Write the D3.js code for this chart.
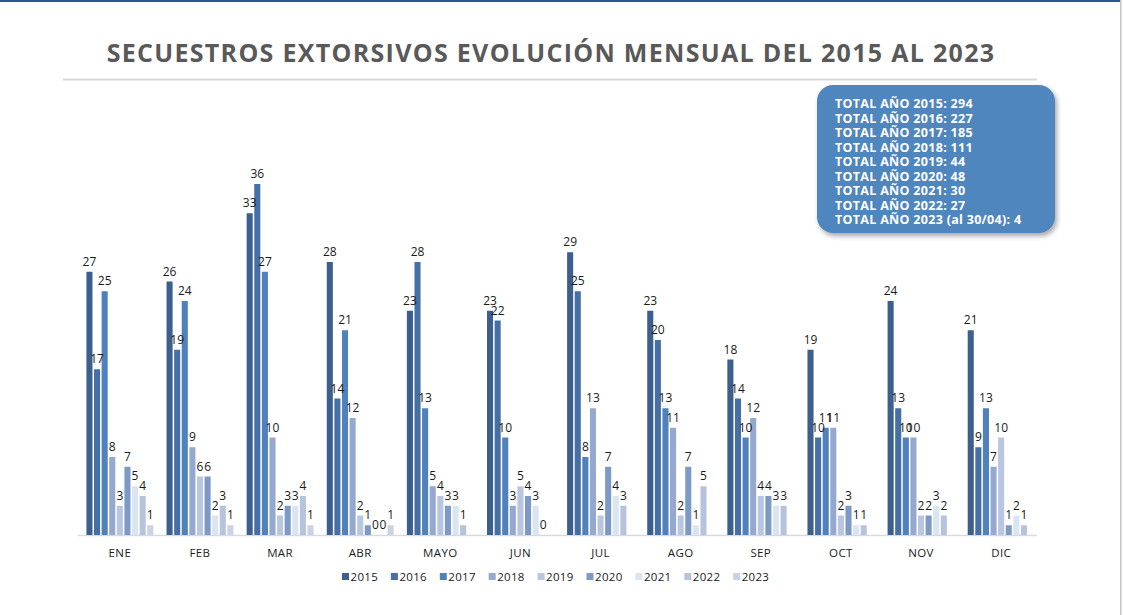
<!DOCTYPE html>
<meta charset="utf-8">
<style>
  body { margin: 0; background: #fff; font-family: "Open Sans", sans-serif; }
</style>
<body>
<script src="https://cdnjs.cloudflare.com/ajax/libs/d3/7.8.5/d3.min.js"></script>
<script>
// months and years
var months = ["ENE","FEB","MAR","ABR","MAYO","JUN","JUL","AGO","SEP","OCT","NOV","DIC"];
var years = ["2015","2016","2017","2018","2019","2020","2021","2022","2023"];

// monthly values per year (2023 only up to april)
var v2015 = [27,26,33,28,23,23,29,23,18,19,24,21];
var v2016 = [17,19,36,14,28,22,25,20,14,10,13,9];
var v2017 = [25,24,27,21,13,10,8,13,10,11,10,13];
var v2018 = [8,9,10,12,5,3,13,11,12,11,10,7];
var v2019 = [3,6,2,2,4,5,2,2,4,2,2,10];
var v2020 = [7,6,3,1,3,4,7,7,4,3,2,1];
var v2021 = [5,2,3,0,3,3,4,1,3,1,3,2];
var v2022 = [4,3,4,0,1,0,3,5,3,1,2,1];
var v2023 = [1,1,1,1,null,null,null,null,null,null,null,null];

var totals = ["TOTAL AÑO 2015: 294","TOTAL AÑO 2016: 227","TOTAL AÑO 2017: 185",
  "TOTAL AÑO 2018: 111","TOTAL AÑO 2019: 44","TOTAL AÑO 2020: 48",
  "TOTAL AÑO 2021: 30","TOTAL AÑO 2022: 27","TOTAL AÑO 2023 (al 30/04): 4"];

var series = [v2015,v2016,v2017,v2018,v2019,v2020,v2021,v2022,v2023];
var colors = ["#3d5f8e","#4570a6","#4f81bd","#95a9d0","#b9c6e2","#7d9ac7","#dbe4f1","#b6c3df","#c9d2e6"];

var width = 1123, height = 615;
var svg = d3.select("body").append("svg")
  .attr("width", width)
  .attr("height", height);

// top border and right edge
svg.append("rect").attr("x",0).attr("y",0).attr("width",1121).attr("height",2).attr("fill","#2d568a");
svg.append("rect").attr("x",1120).attr("y",0).attr("width",1.5).attr("height",height).attr("fill","#c8c8c8");

// title
svg.append("text")
  .attr("x", 551).attr("y", 62)
  .attr("text-anchor","middle")
  .attr("font-size", 25)
  .attr("font-weight", 700)
  .attr("letter-spacing", 1.3)
  .attr("fill","#595959")
  .text("SECUESTROS EXTORSIVOS EVOLUCIÓN MENSUAL DEL 2015 AL 2023");
svg.append("rect").attr("x",63).attr("y",78.5).attr("width",974).attr("height",2).attr("fill","#d9d9d9");

// scales
var x0 = d3.scaleBand().domain(months).range([80, 1041]).paddingInner(0.165).paddingOuter(0.08);
var x1 = d3.scaleBand().domain(years).range([0, x0.bandwidth()]).paddingInner(0.2);
var y = d3.scaleLinear().domain([0, 40]).range([535, 145]);

// baseline
svg.append("line")
  .attr("x1",78).attr("x2",1037).attr("y1",y(0)+0.5).attr("y2",y(0)+0.5)
  .attr("stroke","#d9d9d9").attr("stroke-width",1.5);

// bars
var rows = [];
series.forEach(function(s, si) {
  s.forEach(function(v, mi) {
    if (v !== null) rows.push({m: months[mi], yr: years[si], v: v, c: colors[si]});
  });
});

var g = svg.append("g");
g.selectAll("rect.bar").data(rows).enter().append("rect")
  .attr("class","bar")
  .attr("x", function(d) { return x0(d.m) + x1(d.yr); })
  .attr("y", function(d) { return y(d.v); })
  .attr("width", x1.bandwidth())
  .attr("height", function(d) { return y(0) - y(d.v); })
  .attr("fill", function(d) { return d.c; });

g.selectAll("text.lbl").data(rows).enter().append("text")
  .attr("class","lbl")
  .attr("x", function(d) { return x0(d.m) + x1(d.yr) + x1.bandwidth()/2; })
  .attr("y", function(d) { return y(d.v) - 6; })
  .attr("text-anchor","middle")
  .attr("font-size", 12)
  .attr("fill","#1a1a1a")
  .text(function(d) { return d.v; });

// month labels
svg.selectAll("text.month").data(months).enter().append("text")
  .attr("class","month")
  .attr("x", function(d) { return x0(d) + x0.bandwidth()/2; })
  .attr("y", 557)
  .attr("text-anchor","middle")
  .attr("font-size", 11.5)
  .attr("letter-spacing", 0.4)
  .attr("fill","#1a1a1a")
  .text(function(d) { return d; });

// legend
var leg = svg.selectAll("g.leg").data(years).enter().append("g")
  .attr("class","leg")
  .attr("transform", function(d, i) { return "translate(" + (342 + i*48.9) + ",572)"; });
leg.append("rect").attr("width",7).attr("height",7).attr("y",1)
  .attr("fill", function(d, i) { return colors[i]; });
leg.append("text").attr("x",8.5).attr("y",8.5)
  .attr("font-size",11.5).attr("letter-spacing",0.3).attr("fill","#1a1a1a")
  .text(function(d) { return d; });

// totals box
var defs = svg.append("defs");
var f = defs.append("filter").attr("id","shadow").attr("x","-10%").attr("y","-10%").attr("width","130%").attr("height","130%");
f.append("feDropShadow").attr("dx",2).attr("dy",3).attr("stdDeviation",2.5).attr("flood-color","#000").attr("flood-opacity",0.35);

svg.append("rect")
  .attr("x",817).attr("y",85).attr("width",238).attr("height",148)
  .attr("rx",16).attr("ry",16)
  .attr("fill","#4f86bd")
  .attr("filter","url(#shadow)");

svg.selectAll("text.tot").data(totals).enter().append("text")
  .attr("class","tot")
  .attr("x", 835)
  .attr("y", function(d, i) { return 108 + i*14.5; })
  .attr("font-size", 12.5)
  .attr("font-weight", 700)
  .attr("letter-spacing", 0.3)
  .attr("fill","#fff")
  .text(function(d) { return d; });
</script>
</body>
